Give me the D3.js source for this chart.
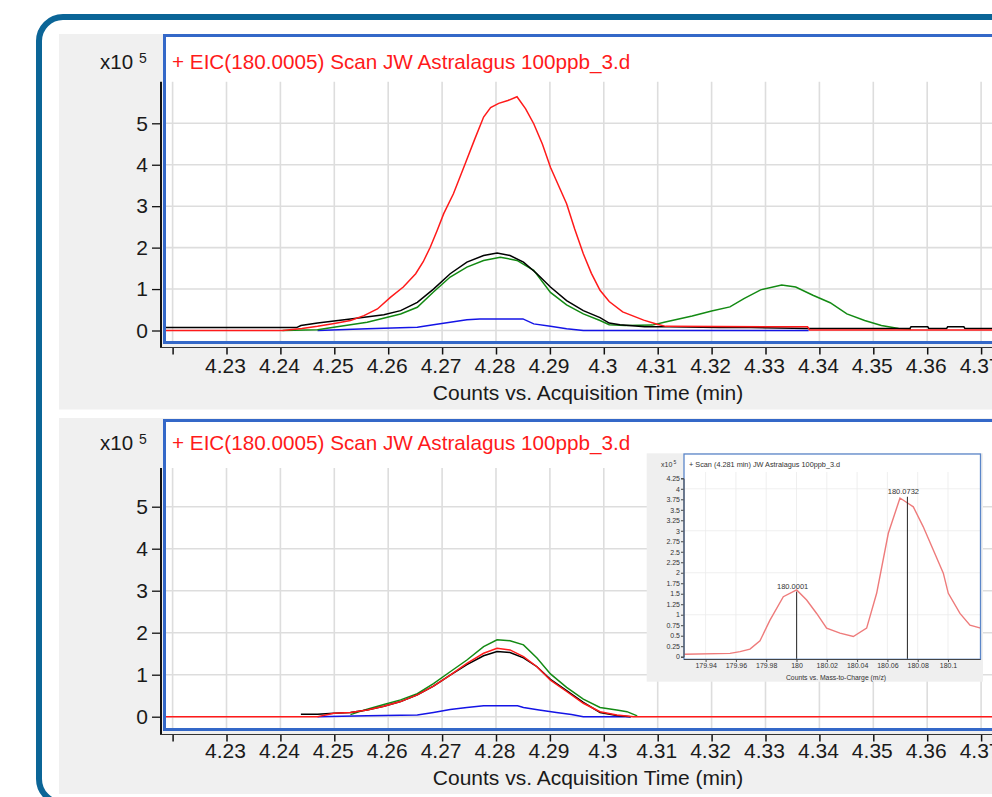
<!DOCTYPE html>
<html>
<head>
<meta charset="utf-8">
<script src="https://cdn.jsdelivr.net/npm/d3@7"></script>
<style>
  body { margin: 0; background: #fff; }
  svg { display: block; font-family: "Liberation Sans", Arial, sans-serif; }
</style>
</head>
<body>
<svg id="chart"></svg>
<script>
const WIDTH = 992;
const HEIGHT = 797;

// axis ticks of the two EIC panels
const timeTicks = [4.22, 4.23, 4.24, 4.25, 4.26, 4.27, 4.28, 4.29, 4.30, 4.31, 4.32, 4.33, 4.34, 4.35, 4.36, 4.37];
const timeTickLabels = ["", "4.23", "4.24", "4.25", "4.26", "4.27", "4.28", "4.29", "4.3", "4.31", "4.32", "4.33", "4.34", "4.35", "4.36", "4.37"];
const countTicks = [0, 1, 2, 3, 4, 5];
const countTickLabels = ["0", "1", "2", "3", "4", "5"];
const eicTitle = "+ EIC(180.0005) Scan JW Astralagus 100ppb_3.d";
const timeAxisTitle = "Counts vs. Acquisition Time (min)";

// top panel traces, [time (min), counts x10^5]
const topRed = [[4.2185, 0.0], [4.2404, 0.0], [4.2440, 0.05], [4.2469, 0.10], [4.2500, 0.17], [4.2530, 0.24], [4.2555, 0.36],
  [4.2580, 0.52], [4.2604, 0.80], [4.2628, 1.05], [4.2651, 1.37], [4.2665, 1.66], [4.2678, 2.01], [4.2691, 2.42],
  [4.2703, 2.82], [4.2721, 3.30], [4.2743, 4.03], [4.2760, 4.60], [4.2777, 5.15], [4.2790, 5.38], [4.2805, 5.48],
  [4.2822, 5.55], [4.2839, 5.64], [4.2855, 5.35], [4.2870, 4.99], [4.2886, 4.50], [4.2901, 3.94], [4.2916, 3.50],
  [4.2931, 3.06], [4.2946, 2.45], [4.2962, 1.85], [4.2977, 1.38], [4.2993, 0.97], [4.3010, 0.70], [4.3035, 0.45],
  [4.3074, 0.25], [4.3099, 0.15], [4.3115, 0.10], [4.3378, 0.09], [4.3382, 0.01], [4.3800, 0.01]];
const topBlack = [[4.2185, 0.07], [4.2430, 0.07], [4.2438, 0.12], [4.2469, 0.18], [4.2530, 0.28], [4.2592, 0.38],
  [4.2623, 0.48], [4.2654, 0.68], [4.2684, 1.00], [4.2715, 1.37], [4.2746, 1.65], [4.2777, 1.81], [4.2802, 1.87],
  [4.2826, 1.81], [4.2851, 1.65], [4.2876, 1.37], [4.2901, 1.05], [4.2931, 0.72], [4.2962, 0.48], [4.2993, 0.31],
  [4.3010, 0.18], [4.3030, 0.14], [4.3076, 0.09], [4.3122, 0.09], [4.3214, 0.07], [4.3273, 0.07], [4.3380, 0.05],
  [4.3568, 0.05], [4.3570, 0.09], [4.3601, 0.09], [4.3603, 0.05], [4.3636, 0.05], [4.3638, 0.09], [4.3668, 0.09],
  [4.3670, 0.05], [4.3800, 0.05]];
const topGreen = [[4.2404, 0.0], [4.2469, 0.02], [4.2499, 0.08], [4.2561, 0.20], [4.2623, 0.40], [4.2654, 0.56],
  [4.2684, 0.93], [4.2715, 1.29], [4.2746, 1.53], [4.2777, 1.69], [4.2808, 1.77], [4.2839, 1.69], [4.2870, 1.45],
  [4.2901, 0.92], [4.2931, 0.62], [4.2962, 0.40], [4.2993, 0.24], [4.3010, 0.14], [4.3040, 0.12], [4.3090, 0.13],
  [4.3112, 0.20], [4.3164, 0.35], [4.3200, 0.47], [4.3234, 0.57], [4.3260, 0.77], [4.3291, 0.98], [4.3330, 1.10],
  [4.3356, 1.05], [4.3388, 0.85], [4.3420, 0.67], [4.3451, 0.40], [4.3484, 0.24], [4.3515, 0.12], [4.3547, 0.05],
  [4.3570, 0.03]];
const topBlue = [[4.2469, 0.0], [4.2561, 0.04], [4.2654, 0.08], [4.2684, 0.14], [4.2715, 0.20], [4.2746, 0.26],
  [4.2770, 0.28], [4.2850, 0.28], [4.2870, 0.16], [4.2901, 0.10], [4.2931, 0.04], [4.2962, 0.0], [4.3380, 0.0]];

// bottom panel traces
const botRed = [[4.2185, 0.0], [4.2469, 0.0], [4.2499, 0.08], [4.2530, 0.10], [4.2561, 0.16], [4.2592, 0.25],
  [4.2623, 0.36], [4.2654, 0.52], [4.2684, 0.73], [4.2715, 0.99], [4.2746, 1.27], [4.2777, 1.51], [4.2802, 1.63],
  [4.2826, 1.59], [4.2851, 1.43], [4.2876, 1.19], [4.2901, 0.87], [4.2931, 0.60], [4.2962, 0.32], [4.2993, 0.12],
  [4.3024, 0.04], [4.3055, 0.0], [4.3800, 0.0]];
const botBlack = [[4.2438, 0.06], [4.2469, 0.06], [4.2499, 0.08], [4.2530, 0.10], [4.2561, 0.16], [4.2592, 0.25],
  [4.2623, 0.36], [4.2654, 0.52], [4.2684, 0.73], [4.2715, 0.99], [4.2746, 1.24], [4.2777, 1.45], [4.2802, 1.55],
  [4.2826, 1.53], [4.2851, 1.40], [4.2876, 1.19], [4.2901, 0.89], [4.2931, 0.62], [4.2962, 0.34], [4.2993, 0.10],
  [4.3024, 0.03], [4.3050, 0.0]];
const botGreen = [[4.2530, 0.05], [4.2561, 0.18], [4.2592, 0.29], [4.2623, 0.40], [4.2654, 0.55], [4.2684, 0.79],
  [4.2715, 1.07], [4.2746, 1.35], [4.2777, 1.67], [4.2802, 1.83], [4.2826, 1.81], [4.2851, 1.71], [4.2876, 1.40],
  [4.2901, 1.02], [4.2931, 0.70], [4.2962, 0.42], [4.2993, 0.22], [4.3024, 0.16], [4.3043, 0.12], [4.3062, 0.02]];
const botBlue = [[4.2469, 0.0], [4.2561, 0.02], [4.2654, 0.04], [4.2684, 0.10], [4.2715, 0.17], [4.2746, 0.22],
  [4.2777, 0.26], [4.2840, 0.26], [4.2851, 0.22], [4.2880, 0.16], [4.2912, 0.10], [4.2940, 0.05], [4.2962, 0.0],
  [4.3050, 0.0]];

// inset mass spectrum
const insetTitle = "+ Scan (4.281 min) JW Astralagus 100ppb_3.d";
const insetAxisTitle = "Counts vs. Mass-to-Charge (m/z)";
const mzTicks = [179.94, 179.96, 179.98, 180.00, 180.02, 180.04, 180.06, 180.08, 180.10];
const mzTickLabels = ["179.94", "179.96", "179.98", "180", "180.02", "180.04", "180.06", "180.08", "180.1"];
const specTicks = [0, 0.25, 0.5, 0.75, 1, 1.25, 1.5, 1.75, 2, 2.25, 2.5, 2.75, 3, 3.25, 3.5, 3.75, 4, 4.25];
const specTickLabels = ["0", "0.25", "0.5", "0.75", "1", "1.25", "1.5", "1.75", "2", "2.25", "2.5", "2.75", "3", "3.25", "3.5", "3.75", "4", "4.25"];
const spectrum = [[179.926, 0.06], [179.9561, 0.08], [179.9627, 0.12], [179.9693, 0.18], [179.9759, 0.38],
  [179.9825, 0.87], [179.9913, 1.43], [180.0001, 1.59], [180.0067, 1.35], [180.0133, 1.03], [180.0199, 0.68],
  [180.0287, 0.56], [180.0375, 0.48], [180.0463, 0.68], [180.0529, 1.51], [180.0606, 2.94], [180.0683, 3.78],
  [180.0738, 3.65], [180.0771, 3.57], [180.0836, 3.10], [180.0903, 2.54], [180.0969, 1.99], [180.1002, 1.51],
  [180.1079, 1.03], [180.1145, 0.75], [180.1216, 0.68]];
const peakLabels = [[180.0001, 1.55, "180.0001"], [180.0732, 3.81, "180.0732"]];

const svg = d3.select('#chart').attr('width', WIDTH).attr('height', HEIGHT);

// outer rounded frame
svg.append('rect')
    .attr('x', 39).attr('y', 17)
    .attr('width', 1000).attr('height', 786)
    .attr('rx', 24)
    .attr('fill', '#fff')
    .attr('stroke', '#0b6597')
    .attr('stroke-width', 6);

const xScale = d3.scaleLinear().domain([4.23, 4.37]).range([226.5, 981.1]);

const panels = [
    { panelTop: 34, panelBottom: 409.5, plotTop: 35.5, plotBottom: 342.5, y0: 330.5, y5: 123.3, gridTop: 81.7,
      headerY: 69, tickY: 373, titleY: 400,
      series: [[topBlue, '#1414e6'], [topGreen, '#138a13'], [topBlack, '#000'], [topRed, '#ff1a1a']] },
    { panelTop: 418, panelBottom: 794, plotTop: 420.5, plotBottom: 729.5, y0: 716.7, y5: 506.7, gridTop: 468,
      headerY: 450, tickY: 758, titleY: 785,
      series: [[botBlue, '#1414e6'], [botGreen, '#138a13'], [botBlack, '#000'], [botRed, '#ff1a1a']] }
];

panels.forEach((p, i) => {
    const g = svg.append('g');
    const yScale = d3.scaleLinear().domain([0, 5]).range([p.y0, p.y5]);

    g.append('rect')
        .attr('x', 59).attr('y', p.panelTop)
        .attr('width', 940).attr('height', p.panelBottom - p.panelTop)
        .attr('fill', '#f0f0f0');

    g.append('rect')
        .attr('x', 164.5).attr('y', p.plotTop)
        .attr('width', 900).attr('height', p.plotBottom - p.plotTop)
        .attr('fill', '#fff');

    // grid
    g.append('g').selectAll('line').data(timeTicks).join('line')
        .attr('x1', d => xScale(d)).attr('x2', d => xScale(d))
        .attr('y1', p.gridTop).attr('y2', p.plotBottom - 1.5)
        .attr('stroke', '#dddddd').attr('stroke-width', 1.6);
    g.append('g').selectAll('line').data(countTicks).join('line')
        .attr('x1', 166).attr('x2', WIDTH)
        .attr('y1', d => yScale(d)).attr('y2', d => yScale(d))
        .attr('stroke', '#dddddd').attr('stroke-width', 1.6);

    // traces
    const clipId = 'clip' + i;
    g.append('clipPath').attr('id', clipId)
        .append('rect')
        .attr('x', 166).attr('y', p.plotTop + 1.5)
        .attr('width', 900).attr('height', p.plotBottom - p.plotTop - 3);
    const line = d3.line().x(d => xScale(d[0])).y(d => yScale(d[1]));
    g.append('g').attr('clip-path', `url(#${clipId})`)
        .selectAll('path').data(p.series).join('path')
        .attr('d', d => line(d[0]))
        .attr('fill', 'none')
        .attr('stroke', d => d[1])
        .attr('stroke-width', 1.5);

    // plot frame (blue)
    g.append('rect')
        .attr('x', 164.5).attr('y', p.plotTop)
        .attr('width', 900).attr('height', p.plotBottom - p.plotTop)
        .attr('fill', 'none')
        .attr('stroke', '#3468c8')
        .attr('stroke-width', 3);

    // y axis
    const yAxis = d3.axisLeft(yScale)
        .tickValues(countTicks)
        .tickFormat((d, k) => countTickLabels[k])
        .tickSize(9)
        .tickPadding(4);
    const yAxisG = g.append('g').attr('transform', 'translate(161,0)').call(yAxis);
    yAxisG.select('.domain').remove();
    yAxisG.selectAll('.tick line').attr('stroke', '#111').attr('stroke-width', 1.3);
    yAxisG.selectAll('.tick text').attr('font-size', 21).attr('fill', '#1a1a1a')
        .attr('font-family', '"Liberation Sans", Arial, sans-serif');
    g.append('line')
        .attr('x1', 161).attr('x2', 161)
        .attr('y1', p.gridTop).attr('y2', p.plotBottom + 5)
        .attr('stroke', '#111').attr('stroke-width', 2);

    // x axis
    const xAxis = d3.axisBottom(xScale)
        .tickValues(timeTicks)
        .tickFormat((d, k) => timeTickLabels[k])
        .tickSize(7)
        .tickSizeOuter(0);
    const xAxisG = g.append('g').attr('transform', `translate(0,${p.plotBottom + 5})`).call(xAxis);
    xAxisG.select('.domain').remove();
    g.append('line')
        .attr('x1', 160).attr('x2', WIDTH)
        .attr('y1', p.plotBottom + 5).attr('y2', p.plotBottom + 5)
        .attr('stroke', '#333').attr('stroke-width', 1.2);
    xAxisG.selectAll('.tick line').attr('stroke', '#111').attr('stroke-width', 1.5);
    xAxisG.selectAll('.tick text')
        .attr('x', -1.5)
        .attr('y', p.tickY - p.plotBottom - 5).attr('dy', 0)
        .attr('font-size', 21).attr('fill', '#1a1a1a')
        .attr('font-family', '"Liberation Sans", Arial, sans-serif');

    g.append('text')
        .attr('x', 588).attr('y', p.titleY)
        .attr('text-anchor', 'middle')
        .attr('font-size', 21).attr('fill', '#1a1a1a')
        .text(timeAxisTitle);

    // header
    g.append('text')
        .attr('x', 100).attr('y', p.headerY)
        .attr('font-size', 20.5).attr('fill', '#1a1a1a')
        .text('x10');
    g.append('text')
        .attr('x', 139).attr('y', p.headerY - 6)
        .attr('font-size', 14).attr('fill', '#1a1a1a')
        .text('5');
    g.append('text')
        .attr('x', 172).attr('y', p.headerY)
        .attr('font-size', 20.7).attr('fill', '#ff1a1a')
        .text(eicTitle);
});

// inset spectrum
const inset = svg.append('g');
const mzScale = d3.scaleLinear().domain([180.0, 180.1]).range([796.5, 948]);
const specScale = d3.scaleLinear().domain([0, 4.25]).range([656.7, 478.3]);

inset.append('rect')
    .attr('x', 646.7).attr('y', 453.3)
    .attr('width', 336.3).attr('height', 228.4)
    .attr('fill', '#efefef');
inset.append('rect')
    .attr('x', 684).attr('y', 454)
    .attr('width', 296.5).attr('height', 205.3)
    .attr('fill', '#fff');

inset.append('g').selectAll('line').data(mzTicks).join('line')
    .attr('x1', d => mzScale(d)).attr('x2', d => mzScale(d))
    .attr('y1', 472).attr('y2', 659)
    .attr('stroke', '#ebebeb').attr('stroke-width', 0.8);
inset.append('g').selectAll('line').data([1, 2, 3, 4]).join('line')
    .attr('x1', 685).attr('x2', 980)
    .attr('y1', d => specScale(d)).attr('y2', d => specScale(d))
    .attr('stroke', '#ebebeb').attr('stroke-width', 0.8);

inset.append('path')
    .datum(spectrum)
    .attr('d', d3.line().x(d => mzScale(d[0])).y(d => specScale(d[1])))
    .attr('fill', 'none')
    .attr('stroke', '#ee7b7b')
    .attr('stroke-width', 1.4);

inset.append('g').selectAll('line').data(peakLabels).join('line')
    .attr('x1', d => mzScale(d[0])).attr('x2', d => mzScale(d[0]))
    .attr('y1', d => specScale(d[1])).attr('y2', 659)
    .attr('stroke', '#222').attr('stroke-width', 1);
inset.append('g').selectAll('text').data(peakLabels).join('text')
    .attr('x', d => mzScale(d[0]) - 4).attr('y', d => specScale(d[1]) - 3)
    .attr('text-anchor', 'middle')
    .attr('font-size', 7.5).attr('fill', '#333')
    .text(d => d[2]);

inset.append('rect')
    .attr('x', 684).attr('y', 454)
    .attr('width', 296.5).attr('height', 205.3)
    .attr('fill', 'none')
    .attr('stroke', '#5b86c9').attr('stroke-width', 1.3);

const specAxis = d3.axisLeft(specScale)
    .tickValues(specTicks)
    .tickFormat((d, k) => specTickLabels[k])
    .tickSize(2.5).tickPadding(1);
const specAxisG = inset.append('g').attr('transform', 'translate(683.5,0)').call(specAxis);
specAxisG.select('.domain').attr('stroke', '#444');
specAxisG.selectAll('.tick line').attr('stroke', '#444');
specAxisG.selectAll('.tick text').attr('font-size', 7).attr('fill', '#333')
    .attr('font-family', '"Liberation Sans", Arial, sans-serif');

const mzAxis = d3.axisBottom(mzScale)
    .tickValues(mzTicks)
    .tickFormat((d, k) => mzTickLabels[k])
    .tickSize(2.5).tickSizeOuter(0).tickPadding(1.5);
const mzAxisG = inset.append('g').attr('transform', 'translate(0,659.5)').call(mzAxis);
mzAxisG.select('.domain').remove();
mzAxisG.selectAll('.tick line').attr('stroke', '#444');
mzAxisG.selectAll('.tick text').attr('font-size', 7).attr('fill', '#333')
    .attr('font-family', '"Liberation Sans", Arial, sans-serif');
inset.append('line')
    .attr('x1', 684).attr('x2', 980.5).attr('y1', 659.5).attr('y2', 659.5)
    .attr('stroke', '#444').attr('stroke-width', 1);

inset.append('text')
    .attr('x', 836).attr('y', 679.5)
    .attr('text-anchor', 'middle')
    .attr('font-size', 6.8).attr('fill', '#333')
    .text(insetAxisTitle);
inset.append('text')
    .attr('x', 689).attr('y', 467)
    .attr('font-size', 7.3).attr('fill', '#333')
    .text(insetTitle);
inset.append('text')
    .attr('x', 661).attr('y', 467)
    .attr('font-size', 7).attr('fill', '#333')
    .text('x10');
inset.append('text')
    .attr('x', 673.5).attr('y', 463.5)
    .attr('font-size', 5).attr('fill', '#333')
    .text('5');
</script>
</body>
</html>
